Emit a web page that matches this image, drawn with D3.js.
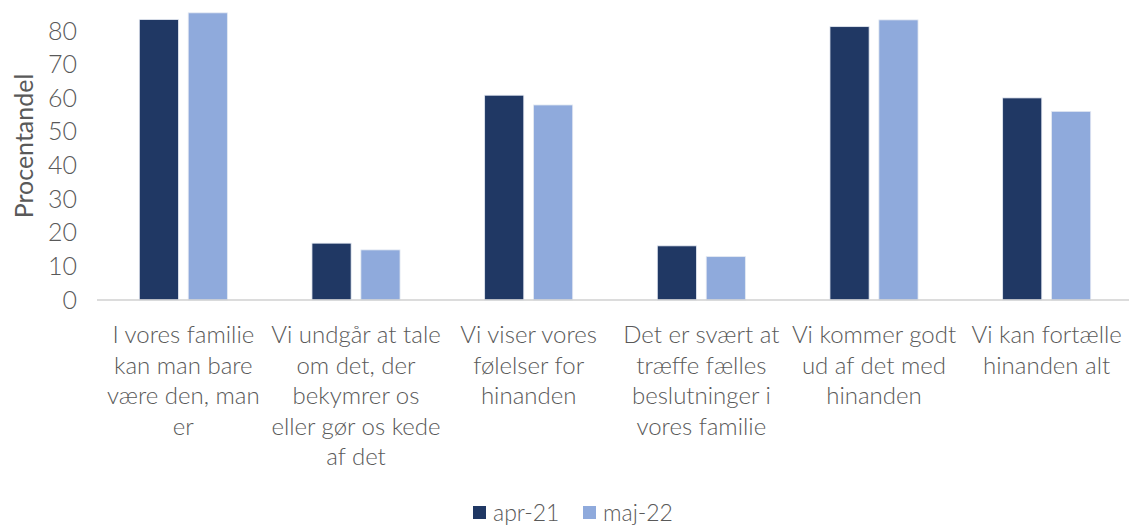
<!DOCTYPE html>
<html>
<head>
<meta charset="utf-8">
<script src="https://cdn.jsdelivr.net/npm/d3@7"></script>
<style>
  body { margin: 0; background: #fff; }
  text { font-family: Lato, "Open Sans", sans-serif; fill: #595959; }
</style>
</head>
<body>
<div id="container"></div>
<script>
// data
const categories = [
  ["I vores familie", "kan man bare", "være den, man", "er"],
  ["Vi undgår at tale", "om det, der", "bekymrer os", "eller gør os kede", "af det"],
  ["Vi viser vores", "følelser for", "hinanden"],
  ["Det er svært at", "træffe fælles", "beslutninger i", "vores familie"],
  ["Vi kommer godt", "ud af det med", "hinanden"],
  ["Vi kan fortælle", "hinanden alt"]
];
const seriesNames = ["apr-21", "maj-22"];
const apr21 = [83.4, 16.9, 60.9, 16.1, 81.3, 60.1];
const maj22 = [85.4, 14.9, 58.0, 12.9, 83.3, 56.1];
const yTicks = [0, 10, 20, 30, 40, 50, 60, 70, 80];
const colors = ["#203864", "#8faadc"];

const W = 1129, H = 527;
const svg = d3.select("#container").append("svg")
  .attr("width", W).attr("height", H);

const idx = d3.range(categories.length);

// scales
const x0 = d3.scaleBand()
  .domain(idx)
  .range([97, 1133])
  .paddingInner(0.49)
  .paddingOuter(0.245);

const x1 = d3.scaleBand()
  .domain(seriesNames)
  .range([0, x0.bandwidth()])
  .paddingInner(0.2);

const y = d3.scaleLinear()
  .domain([0, 80])
  .range([300, 31]);

// y axis (labels only)
const yAxis = svg.append("g")
  .attr("transform", "translate(77,0)")
  .call(d3.axisLeft(y).tickValues(yTicks).tickSize(0).tickPadding(0));
yAxis.select(".domain").remove();
yAxis.selectAll("text")
  .style("font-size", "25px")
  .style("font-family", "Lato, sans-serif")
  .attr("fill", "#595959")
  .attr("font-weight", 300);

// axis title
svg.append("text")
  .attr("transform", "translate(33,146) rotate(-90)")
  .attr("text-anchor", "middle")
  .style("font-size", "25px")
  .text("Procentandel");

// bars
const series = [apr21, maj22];
const groups = svg.append("g").selectAll("g")
  .data(idx)
  .join("g")
  .attr("transform", i => `translate(${x0(i)},0)`);

groups.selectAll("rect")
  .data(i => seriesNames.map((s, k) => ({ s, k, v: series[k][i] })))
  .join("rect")
  .attr("x", d => x1(d.s))
  .attr("y", d => y(d.v))
  .attr("width", x1.bandwidth())
  .attr("height", d => y(0) - y(d.v))
  .attr("fill", d => colors[d.k])
  .attr("stroke", "#e4e9f2")
  .attr("stroke-width", 0.8);

// baseline
svg.append("line")
  .attr("x1", 97).attr("x2", W)
  .attr("y1", y(0)).attr("y2", y(0))
  .attr("stroke", "#d0d0d0")
  .attr("stroke-width", 1.5);

// category labels
const xAxis = svg.append("g");
idx.forEach(i => {
  const t = xAxis.append("text")
    .attr("x", x0(i) + x0.bandwidth() / 2)
    .attr("y", 335)
    .attr("text-anchor", "middle")
    .style("font-size", "24px")
    .attr("font-weight", 300);
  categories[i].forEach((line, j) => {
    t.append("tspan")
      .attr("x", x0(i) + x0.bandwidth() / 2)
      .attr("dy", j === 0 ? "0.35em" : "30.5px")
      .text(line);
  });
});

// legend
const legend = svg.append("g").attr("transform", "translate(473,506)");
const lx = [0, 110];
seriesNames.forEach((s, k) => {
  legend.append("rect")
    .attr("x", lx[k]).attr("y", 0)
    .attr("width", 13).attr("height", 13)
    .attr("fill", colors[k]);
  legend.append("text")
    .attr("x", lx[k] + 20).attr("y", 7)
    .attr("dy", "0.35em")
    .style("font-size", "23px")
    .attr("font-weight", 300)
    .text(s);
});
</script>
</body>
</html>
